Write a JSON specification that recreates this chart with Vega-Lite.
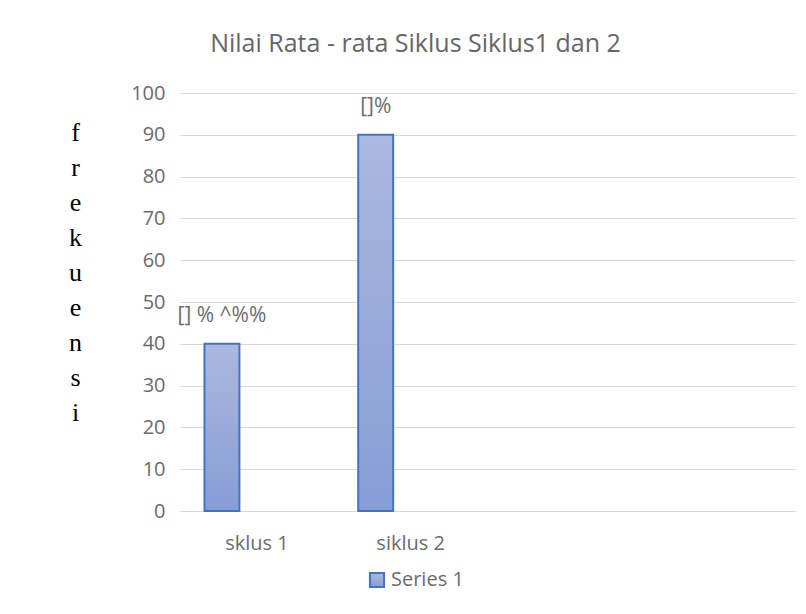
{
  "$schema": "https://vega.github.io/schema/vega-lite/v6.json",
  "width": 615,
  "height": 418,
  "autosize": {"type": "none"},
  "padding": {"left": 180, "top": 93, "right": 11, "bottom": 103},
  "background": "white",
  "title": {
    "text": "Nilai Rata - rata Siklus Siklus1 dan 2",
    "font": "Open Sans",
    "fontSize": 25,
    "fontWeight": "normal",
    "color": "#666666",
    "dx": -72,
    "offset": 26
  },
  "config": {
    "view": {"stroke": null},
    "axis": {"labelFont": "Open Sans", "labelColor": "#6b6b6b", "labelFontSize": 20}
  },
  "data": {
    "values": [
      {"kategori": "sklus 1", "series": "Series 1", "nilai": 40, "label": "[] % ^%%"},
      {"kategori": "siklus 2", "series": "Series 1", "nilai": 90, "label": "[]%"}
    ]
  },
  "encoding": {
    "x": {
      "field": "kategori",
      "type": "nominal",
      "scale": {"domain": ["sklus 1", "siklus 2", "c3", "c4"], "paddingInner": 0, "paddingOuter": 0},
      "sort": null,
      "axis": {
        "title": null,
        "labelAngle": 0,
        "ticks": false,
        "domain": true,
        "domainColor": "#d9d9d9",
        "labelPadding": 22,
        "labelExpr": "datum.label == 'c3' || datum.label == 'c4' ? '' : datum.label"
      }
    },
    "xOffset": {
      "field": "series",
      "type": "nominal",
      "scale": {"domain": ["Series 1", "Series 2", "Series 3"], "paddingInner": 0, "paddingOuter": 0.7}
    },
    "y": {
      "field": "nilai",
      "type": "quantitative",
      "scale": {"domain": [0, 100]},
      "axis": {
        "values": [0, 10, 20, 30, 40, 50, 60, 70, 80, 90, 100],
        "domain": false,
        "ticks": false,
        "gridColor": "#d9d9d9",
        "labelPadding": 15,
        "title": ["f", "r", "e", "k", "u", "e", "n", "s", "i"],
        "titleAngle": 0,
        "titleFont": "Liberation Serif",
        "titleFontSize": 26,
        "titleFontWeight": "normal",
        "titleColor": "#000000",
        "titleLineHeight": 35,
        "titleAlign": "center",
        "titleBaseline": "top",
        "titleX": -105,
        "titleY": 26
      }
    }
  },
  "layer": [
    {
      "mark": {
        "type": "bar",
        "strokeWidth": 2,
        "fill": {
          "gradient": "linear",
          "x1": 0, "y1": 0, "x2": 0, "y2": 1,
          "stops": [
            {"offset": 0, "color": "#abb8df"},
            {"offset": 1, "color": "#879dd6"}
          ]
        }
      },
      "encoding": {
        "stroke": {
          "field": "series",
          "type": "nominal",
          "scale": {"range": ["#4472c4"]},
          "legend": {
            "title": null,
            "orient": "none",
            "legendX": 187,
            "legendY": 477,
            "symbolType": "square",
            "symbolSize": 200,
            "symbolFillColor": "#a3b3de",
            "symbolStrokeWidth": 2,
            "labelFont": "Open Sans",
            "labelFontSize": 20,
            "labelColor": "#6b6b6b"
          }
        }
      }
    },
    {
      "mark": {"type": "text", "dy": -28, "baseline": "middle", "font": "Open Sans", "fontSize": 21, "color": "#6b6b6b"},
      "encoding": {
        "text": {"field": "label"}
      }
    }
  ]
}
